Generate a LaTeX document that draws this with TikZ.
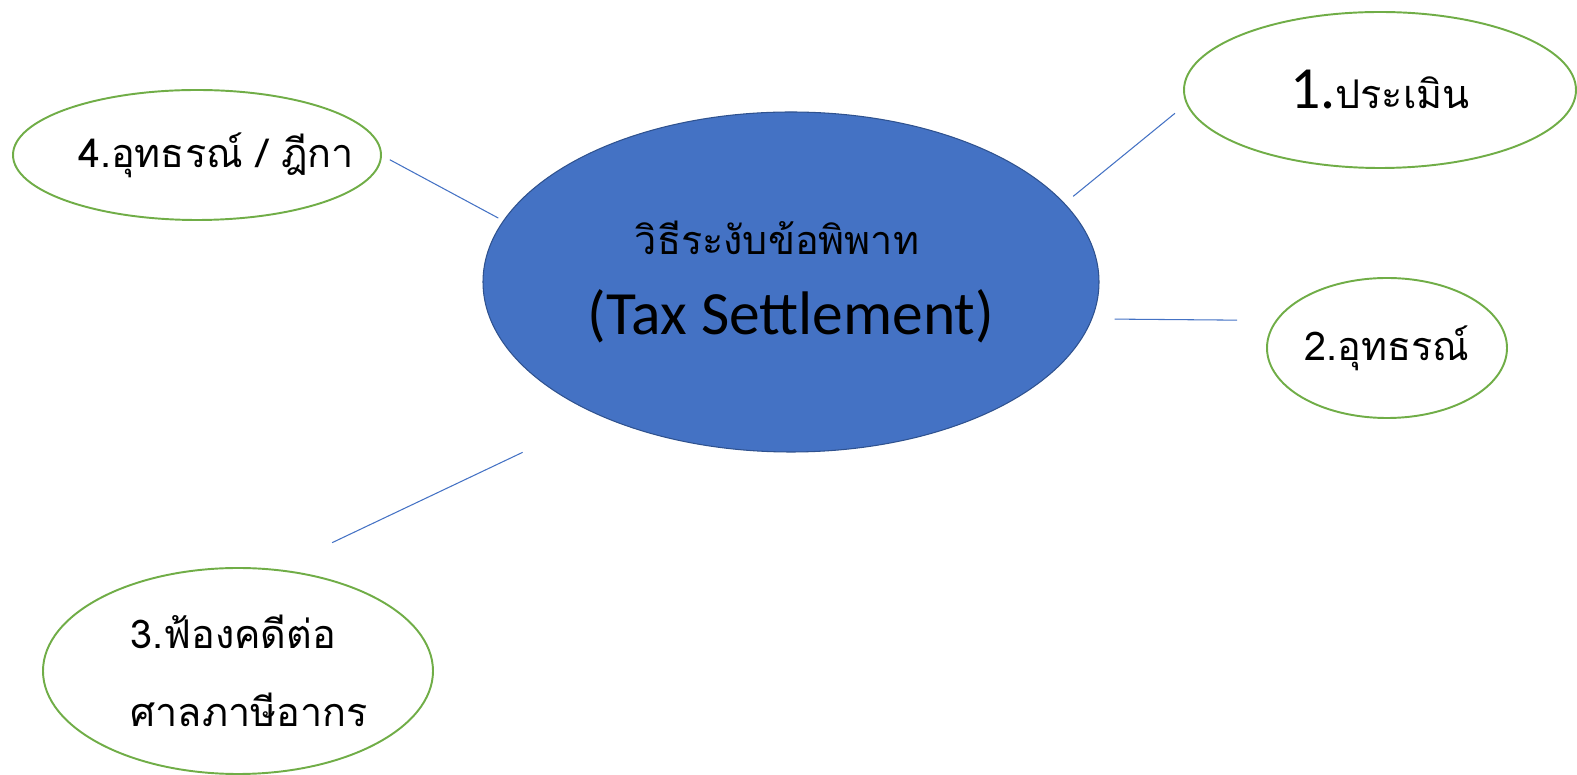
\documentclass[tikz,border=0pt]{standalone}
\usepackage{fontspec}
\usetikzlibrary{shapes.geometric}
\newfontfamily\thaifont[Script=Thai]{Loma}
\newfontfamily\latinfont{Carlito}
\definecolor{hubblue}{HTML}{4472C4}
\definecolor{hubedge}{HTML}{2F528F}
\definecolor{leafgreen}{HTML}{70AD47}

\begin{document}
\begin{tikzpicture}[auto,
    topic/.style ={ellipse, draw=hubedge, fill=hubblue, line width=0.6pt, inner sep=-0.6cm, outer sep=0pt, align=center},
    method/.style ={ellipse, draw=leafgreen, line width=1.1pt, inner sep=-0.6cm, outer sep=0pt, align=center,
       font=\thaifont\fontsize{22.5}{44}\selectfont},
    link/.style ={draw=hubblue, line width=0.6pt}]
   \useasboundingbox (0,0) rectangle (31.54,15.5);
   \node[topic, minimum width=12.32cm, minimum height=6.8cm, font=\thaifont\fontsize{22.5}{46}\selectfont] (hub) at (15.82,9.86)
      {วิธีระงับข้อพิพาท\hspace*{0.56cm}\\{\latinfont\fontsize{35}{46}\selectfont (Tax Settlement)}};
   \node[method, minimum width=7.84cm, minimum height=3.12cm] (assess) at (27.6,13.7)
      {{\latinfont\fontsize{34}{40}\selectfont 1.}ประเมิน};
   \node[method, minimum width=4.8cm, minimum height=2.8cm] (appeal) at (27.74,8.54)
      {2.อุทธรณ์};
   \node[method, minimum width=7.8cm, minimum height=4.12cm, align=left] (court) at (4.76,2.08)
      {\hspace*{0.44cm}3.ฟ้องคดีต่อ\\\hspace*{0.44cm}ศาลภาษีอากร};
   \node[method, minimum width=7.36cm, minimum height=2.6cm] (dika) at (3.94,12.4)
      {\hspace*{0.76cm}4.อุทธรณ์ / ฎีกา};
   \draw[link, shorten <=0.23cm, shorten >=0.31cm] (hub.16.6) -- (assess.184.3);
   \draw[link, shorten <=0.46cm, shorten >=0.79cm] (hub.-7.4) -- (appeal.166.3);
   \draw[link, shorten <=1.72cm, shorten >=1.27cm] (hub.215.6) -- (court.70.7);
   \draw[link, shorten <=0.12cm, shorten >=0.2cm] (hub.168.5) -- (dika.0.3);
\end{tikzpicture}
\end{document}
